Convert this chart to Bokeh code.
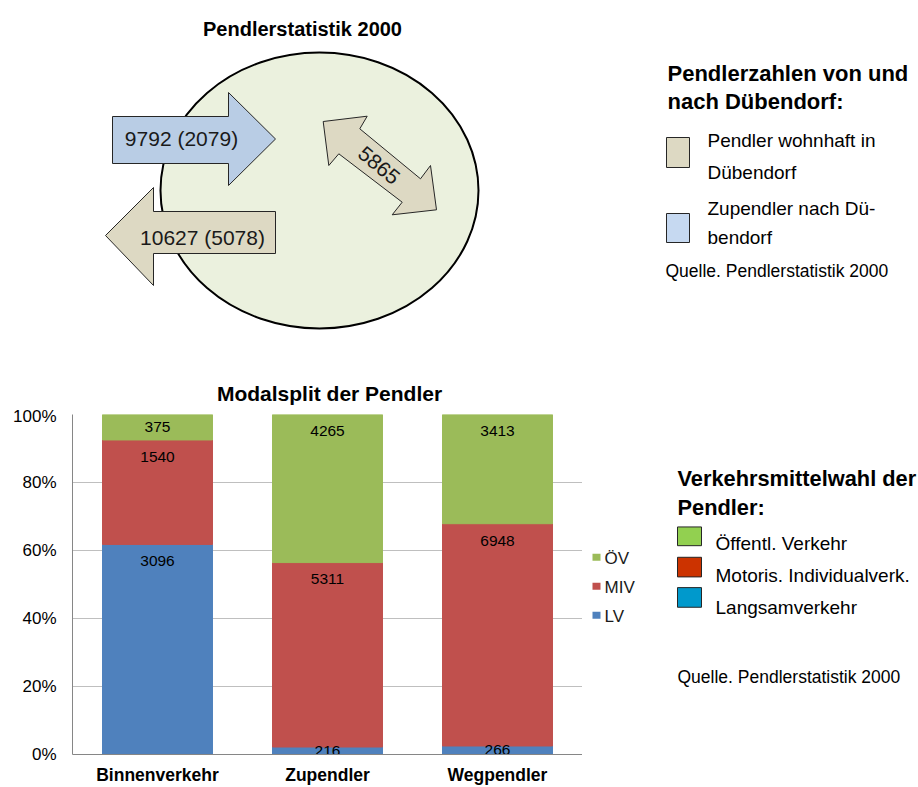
from bokeh.plotting import figure
from bokeh.models import (Range1d, FactorRange, NumeralTickFormatter, FixedTicker,
                          ColumnDataSource)
from bokeh.layouts import column, row
from bokeh.embed import file_html
from bokeh.resources import INLINE
from bokeh.core.properties import value
import numpy as np

# ---------------- data ----------------
diagram_title = "Pendlerstatistik 2000"
inbound_total, inbound_paren = 9792, 2079      # Zupendler nach Dübendorf
outbound_total, outbound_paren = 10627, 5078   # Wegpendler
internal_total = 5865                          # Binnenpendler

chart_title = "Modalsplit der Pendler"
categories = ["Binnenverkehr", "Zupendler", "Wegpendler"]
series = ["LV", "MIV", "ÖV"]
lv = [3096, 216, 266]
miv = [1540, 5311, 6948]
ov = [375, 4265, 3413]
y_ticks = [0, 0.2, 0.4, 0.6, 0.8, 1.0]

legend1_title = ["Pendlerzahlen von und", "nach Dübendorf:"]
legend1_items = [["Pendler wohnhaft in", "Dübendorf"], ["Zupendler nach Dü-", "bendorf"]]
legend2_title = ["Verkehrsmittelwahl der", "Pendler:"]
legend2_items = ["Öffentl. Verkehr", "Motoris. Individualverk.", "Langsamverkehr"]
source_note = "Quelle. Pendlerstatistik 2000"

# ---------------- styles ----------------
FONT_NAME = "Liberation Sans"
FONT = value(FONT_NAME)
bar_colors = ["#4F81BD", "#C0504D", "#9BBB59"]
tan = "#DDD9C3"
light_blue = "#B9CDE5"
legend1_colors = [tan, "#C6D9F1"]
legend2_colors = ["#92D050", "#CC3300", "#0099CC"]

TOP_H = 406
TOTAL_H = 787

def blank(width, height, x0, x1, y0, y1):
    f = figure(width=width, height=height, x_range=Range1d(x0, x1), y_range=Range1d(y1, y0),
               output_backend="svg", toolbar_location=None, min_border=0,
               x_axis_location=None, y_axis_location=None)
    f.grid.visible = False
    f.outline_line_color = None
    return f

# ---------------- top diagram ----------------
top = blank(918, TOP_H, 0, 918, 0, TOP_H)
top.text(x=[302], y=[28], text=[diagram_title], text_font=FONT, text_font_style="bold",
         text_font_size="20px", text_align="center", text_baseline="alphabetic", text_color="black")
top.ellipse(x=[319], y=[190], width=[318], height=[276], fill_color="#EBF1DE",
            line_color="black", line_width=2)
# inbound arrow (right-pointing)
top.patch(x=[112, 228, 228, 275, 228, 228, 112], y=[116, 116, 92, 138.5, 185, 163, 163],
          fill_color=light_blue, line_color="#262626", line_width=1)
# outbound arrow (left-pointing)
top.patch(x=[275, 153, 153, 105, 153, 153, 275], y=[211, 211, 187, 235, 285, 253, 253],
          fill_color=tan, line_color="#262626", line_width=1)
# internal double arrow
top.patch(x=[322.7, 366.7, 359.3, 420, 430, 436, 391.7, 401.7, 338.3, 328.3],
          y=[121, 115.7, 128.3, 178.3, 165, 209.3, 214.3, 201.7, 153.3, 165],
          fill_color=tan, line_color="#262626", line_width=1)
top.text(x=[181, 202], y=[138, 237],
         text=[f"{inbound_total} ({inbound_paren})", f"{outbound_total} ({outbound_paren})"],
         text_font=FONT, text_font_size="21px", text_align="center", text_baseline="middle",
         text_color="#1A1A1A")
top.text(x=[378.5], y=[165], text=[str(internal_total)], angle=-39.5, angle_units="deg",
         text_font=FONT, text_font_size="21px", text_align="center", text_baseline="middle",
         text_color="#1A1A1A")
# legend 1
top.text(x=[667, 667], y=[73, 101], text=legend1_title, text_font=FONT, text_font_style="bold",
         text_font_size="22px", text_baseline="alphabetic", text_color="black")
top.quad(left=[666, 666], right=[689, 689], top=[137, 213], bottom=[167, 242],
         fill_color=legend1_colors, line_color="#262626", line_width=1)
top.text(x=[707] * 4, y=[140, 172, 208, 237],
         text=[legend1_items[0][0], legend1_items[0][1], legend1_items[1][0], legend1_items[1][1]],
         text_font=FONT, text_font_size="19px", text_baseline="alphabetic", text_color="black")
top.text(x=[665], y=[270], text=[source_note], text_font=FONT, text_font_size="17.5px",
         text_baseline="alphabetic", text_color="black")
# bar chart title
top.text(x=[329], y=[393], text=[chart_title], text_font=FONT, text_font_style="bold",
         text_font_size="21px", text_align="center", text_baseline="alphabetic", text_color="black")

# ---------------- bar chart ----------------
vals = np.array([lv, miv, ov], dtype=float)
fr = vals / vals.sum(axis=0)
cum_top = np.cumsum(fr, axis=0)
cum_bot = cum_top - fr
src = ColumnDataSource(dict(cat=categories, LV=fr[0], MIV=fr[1], **{"ÖV": fr[2]}))

bar = figure(width=582, height=TOTAL_H - TOP_H, x_range=FactorRange(*categories),
             y_range=Range1d(0, 1), output_backend="svg", toolbar_location=None,
             min_border_left=72, min_border_right=0, min_border_top=414 - TOP_H,
             min_border_bottom=31)
rs = bar.vbar_stack(series, x="cat", width=0.647, source=src, color=bar_colors)
bar.outline_line_color = None
bar.xgrid.visible = False
bar.ygrid.grid_line_color = "#BFBFBF"
bar.yaxis.ticker = FixedTicker(ticks=y_ticks)
bar.yaxis.formatter = NumeralTickFormatter(format="0%")
for ax in (bar.xaxis[0], bar.yaxis[0]):
    ax.axis_line_color = "#868686"
    ax.major_tick_out = 0
    ax.major_tick_in = 0
    ax.minor_tick_out = 0
    ax.minor_tick_in = 0
    ax.major_label_text_font = FONT_NAME
    ax.major_label_text_color = "black"
bar.yaxis.major_label_text_font_size = "17px"
bar.yaxis.major_label_standoff = 16
bar.xaxis.major_label_text_font_size = "17.5px"
bar.xaxis.major_label_text_font_style = "bold"
bar.xaxis.major_label_standoff = 10

# data labels: near top of each segment, centred if segment too small
off = 17.0 / 342.0
lx, ly, lt = [], [], []
for i in range(3):
    for j, c in enumerate(categories):
        lx.append(c)
        ly.append(max(cum_top[i, j] - off, (cum_top[i, j] + cum_bot[i, j]) / 2))
        lt.append(str(int(vals[i, j])))
bar.text(x=lx, y=ly, text=lt, text_font=FONT, text_font_size="15.5px", text_align="center",
         text_baseline="middle", text_color="black")

# ---------------- right-hand panel: series legend + legend 2 ----------------
rt = blank(336, TOTAL_H - TOP_H, 582, 918, TOP_H, TOTAL_H)
leg_y = [566, 598.5, 631]
leg_names = series[::-1]
leg_cols = bar_colors[::-1]
rt.quad(left=[592] * 3, right=[600] * 3, top=[y - 4 for y in leg_y], bottom=[y + 4 for y in leg_y],
        fill_color=leg_cols, line_color=None)
rt.text(x=[604] * 3, y=[y + 1 for y in leg_y], text=leg_names, text_font=FONT,
        text_font_size="17px", text_baseline="middle", text_color="#1A1A1A")

rt.text(x=[677, 677], y=[478, 510], text=legend2_title, text_font=FONT, text_font_style="bold",
        text_font_size="21.8px", text_baseline="alphabetic", text_color="black")
rt.quad(left=[677] * 3, right=[701] * 3, top=[532, 566, 600], bottom=[553, 588, 622],
        fill_color=legend2_colors, line_color="#262626", line_width=1)
rt.text(x=[715] * 3, y=[550, 586, 622], text=legend2_items, text_font=FONT,
        text_font_size="19px", text_baseline="alphabetic", text_color="black")
rt.text(x=[677], y=[700], text=[source_note], text_font=FONT, text_font_size="17.5px",
        text_baseline="alphabetic", text_color="black")

layout = column(top, row(bar, rt))
open("out.html", "w").write(file_html(layout, INLINE))
